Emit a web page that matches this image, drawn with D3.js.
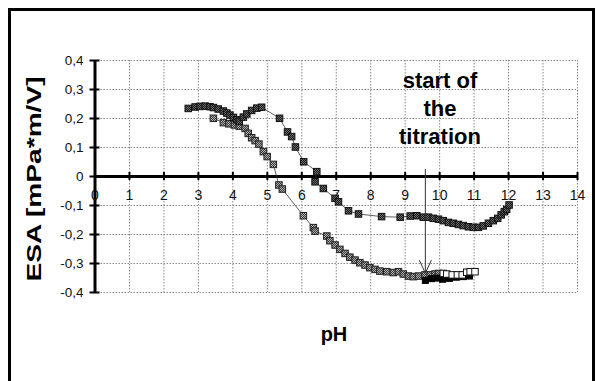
<!DOCTYPE html>
<html>
<head>
<meta charset="utf-8">
<script src="https://cdn.jsdelivr.net/npm/d3@7"></script>
<style>
  html, body { margin: 0; padding: 0; background: #fff; }
  svg { display: block; font-family: "Liberation Sans", Arial, Helvetica, sans-serif; }
</style>
</head>
<body>
<svg id="chart" width="598" height="381"></svg>
<script>
// ESA titration curves (pH vs. ESA signal)
const xTicks = [0, 1, 2, 3, 4, 5, 6, 7, 8, 9, 10, 11, 12, 13, 14];
const yTicks = [0.4, 0.3, 0.2, 0.1, 0, -0.1, -0.2, -0.3, -0.4];
const yTickLabels = ["0,4", "0,3", "0,2", "0,1", "0", "-0,1", "-0,2", "-0,3", "-0,4"];

// Forward titration, darker squares
const darkPH  = [2.72, 2.92, 3.06, 3.21, 3.35, 3.45, 3.59, 3.74, 3.84, 3.93, 4.03, 4.13, 4.20,
                 4.32, 4.42, 4.56, 4.71, 4.85, 5.37, 5.60, 5.72, 5.83, 6.07, 6.45, 6.40, 6.64,
                 6.98, 7.08, 7.37, 7.66, 8.33, 8.87, 9.16, 9.35, 9.54, 9.69, 9.83, 9.98, 10.12,
                 10.27, 10.41, 10.56, 10.70, 10.85, 10.99, 11.14, 11.28, 11.43, 11.57, 11.70,
                 11.80, 11.89, 11.96, 12.03];
const darkESA = [0.233, 0.238, 0.240, 0.241, 0.239, 0.236, 0.231, 0.224, 0.217, 0.210, 0.202, 0.194, 0.188,
                 0.203, 0.214, 0.226, 0.234, 0.237, 0.199, 0.152, 0.136, 0.100, 0.049, 0.015, -0.020, -0.043,
                 -0.077, -0.089, -0.120, -0.131, -0.140, -0.142, -0.138, -0.137, -0.142, -0.142, -0.146, -0.149, -0.154,
                 -0.160, -0.163, -0.167, -0.171, -0.175, -0.177, -0.177, -0.172, -0.163, -0.154, -0.146,
                 -0.134, -0.123, -0.115, -0.100];

// Second titration, lighter hatched squares
const lightPH  = [3.45, 3.74, 3.90, 4.06, 4.20, 4.37, 4.46, 4.56, 4.66, 4.77, 4.90, 5.01, 5.19, 5.35, 5.45,
                  6.06, 6.35, 6.40, 6.74, 6.83, 6.98, 7.12, 7.27, 7.41, 7.56, 7.70, 7.85, 7.99, 8.14, 8.28,
                  8.48, 8.67, 8.82, 8.96, 9.11, 9.25, 9.40, 9.59, 9.74, 9.88, 9.98];
const lightESA = [0.199, 0.184, 0.180, 0.176, 0.172, 0.164, 0.147, 0.132, 0.122, 0.110, 0.084, 0.067, 0.040, -0.031, -0.045,
                  -0.137, -0.178, -0.190, -0.207, -0.223, -0.238, -0.253, -0.267, -0.280, -0.290, -0.299, -0.307, -0.316, -0.322, -0.328,
                  -0.330, -0.333, -0.330, -0.338, -0.345, -0.347, -0.345, -0.341, -0.341, -0.338, -0.336];

// Solid black squares at the start point
const blackPH  = [9.60, 9.78, 9.95, 10.10, 10.30, 10.50, 10.70, 10.88];
const blackESA = [-0.360, -0.354, -0.352, -0.356, -0.353, -0.349, -0.347, -0.345];

// Open squares
const openPH  = [10.12, 10.22, 10.38, 10.53, 10.67, 10.80, 10.90, 11.04];
const openESA = [-0.336, -0.338, -0.341, -0.341, -0.341, -0.332, -0.330, -0.330];

// Annotation arrow (pH, ESA from -> to)
const arrowPH = 9.6;
const arrowFrom = 0.024;
const arrowTo = -0.335;
const noteLines = ["start of", "the", "titration"];

const svg = d3.select("#chart");

// Outer frame
svg.append("path")
  .attr("d", "M9.5,381 L9.5,9.5 L593.5,9.5 L593.5,381")
  .attr("fill", "none").attr("stroke", "#000").attr("stroke-width", 3);

const x = d3.scaleLinear().domain([0, 14]).range([94.5, 577]);
const y = d3.scaleLinear().domain([-0.4, 0.4]).range([292, 60]);

// Dotted grid
const grid = svg.append("g").attr("stroke", "#8a8a8a").attr("stroke-width", 1)
  .attr("stroke-dasharray", "1.5,1.5").attr("fill", "none");
grid.selectAll("line.v").data(xTicks.filter(d => d > 0)).join("line")
  .attr("x1", d => x(d) + 0.5).attr("x2", d => x(d) + 0.5)
  .attr("y1", y(0.4)).attr("y2", y(-0.4));
grid.selectAll("line.h").data(yTicks).join("line")
  .attr("x1", x(0)).attr("x2", x(14))
  .attr("y1", d => y(d) + 0.5).attr("y2", d => y(d) + 0.5);

// Y axis
const yAxis = svg.append("g").attr("transform", `translate(${x(0)},0)`)
  .call(d3.axisLeft(y).tickValues(yTicks).tickSize(0)
        .tickFormat((d, i) => yTickLabels[i]).tickPadding(11));
yAxis.select(".domain").attr("stroke", "#000").attr("stroke-width", 3);
yAxis.selectAll(".tick line").attr("x1", -5).attr("x2", 5)
  .attr("stroke", "#000").attr("stroke-width", 2);
yAxis.selectAll(".tick text").attr("font-size", 13.5).attr("fill", "#111")
  .attr("font-family", "Liberation Sans, Arial, sans-serif");

// X axis at ESA = 0
const xAxis = svg.append("g").attr("transform", `translate(0,${y(0)})`)
  .call(d3.axisBottom(x).tickValues(xTicks).tickSize(0).tickPadding(14));
xAxis.select(".domain").attr("stroke", "#000").attr("stroke-width", 3);
xAxis.selectAll(".tick line").attr("y1", -4).attr("y2", 4)
  .attr("stroke", "#000").attr("stroke-width", 2);
xAxis.selectAll(".tick text").attr("font-size", 14).attr("fill", "#111")
  .attr("font-family", "Liberation Sans, Arial, sans-serif");

// Hatch patterns for the square markers
const defs = svg.append("defs");
function checker(id, a, b) {
  const p = defs.append("pattern").attr("id", id).attr("patternUnits", "userSpaceOnUse")
    .attr("width", 2).attr("height", 2);
  p.append("rect").attr("width", 2).attr("height", 2).attr("fill", a);
  p.append("rect").attr("width", 1).attr("height", 1).attr("fill", b);
  p.append("rect").attr("x", 1).attr("y", 1).attr("width", 1).attr("height", 1).attr("fill", b);
}
checker("hatchDark", "#1a1a1a", "#6a6a6a");
checker("hatchLight", "#3a3a3a", "#b0b0b0");

const line = d3.line().x(d => x(d[0])).y(d => y(d[1]));
const zip = (a, b) => a.map((v, i) => [v, b[i]]);

function series(pts, fill, stroke, size) {
  svg.append("path").datum(pts).attr("d", line)
    .attr("fill", "none").attr("stroke", "#333").attr("stroke-width", 0.8);
  svg.append("g").selectAll("rect").data(pts).join("rect")
    .attr("x", d => x(d[0]) - size / 2).attr("y", d => y(d[1]) - size / 2)
    .attr("width", size).attr("height", size)
    .attr("fill", fill).attr("stroke", stroke).attr("stroke-width", 1);
}

series(zip(lightPH, lightESA), "url(#hatchLight)", "#222", 6.5);
series(zip(darkPH, darkESA), "url(#hatchDark)", "#111", 6.5);
series(zip(blackPH, blackESA), "#000", "#000", 6);
series(zip(openPH, openESA), "#fff", "#111", 6.5);

// Arrow marking the start of the titration
const ax = x(arrowPH);
const a0 = y(arrowFrom), a1 = y(arrowTo);
svg.append("line").attr("x1", ax).attr("x2", ax).attr("y1", a0).attr("y2", a1)
  .attr("stroke", "#333").attr("stroke-width", 1);
svg.append("path")
  .attr("d", `M${ax - 6},${a1 - 13} L${ax},${a1} L${ax + 6},${a1 - 13}`)
  .attr("fill", "none").attr("stroke", "#333").attr("stroke-width", 1);

svg.append("g").selectAll("text").data(noteLines).join("text")
  .attr("x", 440).attr("y", (d, i) => 88 + i * 27.8)
  .attr("text-anchor", "middle").attr("font-weight", "bold").attr("font-size", 22)
  .attr("fill", "#000").text(d => d);

// Axis titles
svg.append("text").attr("x", 334).attr("y", 341)
  .attr("text-anchor", "middle").attr("font-weight", "bold").attr("font-size", 20)
  .text("pH");

svg.append("text")
  .attr("transform", "translate(41,179) rotate(-90)")
  .attr("text-anchor", "middle").attr("font-weight", "bold").attr("font-size", 21)
  .attr("textLength", 205).attr("lengthAdjust", "spacingAndGlyphs")
  .text("ESA  [mPa*m/V]");
</script>
</body>
</html>
